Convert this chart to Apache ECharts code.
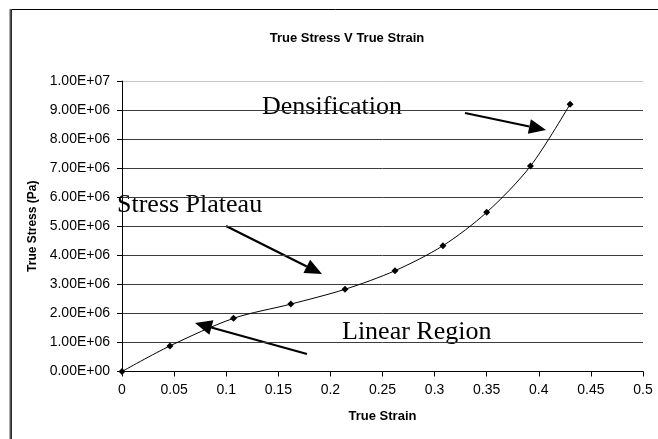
<!DOCTYPE html>
<html>
<head>
<meta charset="utf-8">
<script src="https://cdn.jsdelivr.net/npm/echarts@6/dist/echarts.min.js"></script>
<style>
  html, body { margin: 0; padding: 0; background: #fff; }
  #chart { width: 658px; height: 439px; }
</style>
</head>
<body>
<div id="chart"></div>
<script>
// values
var strain = [0, 0.046, 0.107, 0.162, 0.214, 0.262, 0.308, 0.350, 0.392, 0.430];
var stress = [0, 0.88e6, 1.83e6, 2.32e6, 2.83e6, 3.47e6, 4.33e6, 5.48e6, 7.07e6, 9.20e6];
var xTicks = [0, 0.05, 0.1, 0.15, 0.2, 0.25, 0.3, 0.35, 0.4, 0.45, 0.5];
var yTicks = [0, 1e6, 2e6, 3e6, 4e6, 5e6, 6e6, 7e6, 8e6, 9e6, 1e7];

let sci = function(v){
    if (v === 0) return '0.00E+00';
    let e = Math.floor(Math.log10(v) + 1e-9);
    let m = v / Math.pow(10, e);
    return m.toFixed(2) + 'E+' + (e < 10 ? '0' : '') + e;
};

// arrow = line plus filled head, pixel positions of the annotations
let arrow = function(x1, y1, x2, y2){
    let dx = x2 - x1, dy = y2 - y1;
    let len = Math.sqrt(dx*dx + dy*dy);
    let ux = dx/len, uy = dy/len;
    let hl = 17, hw = 7.5;
    let bx = x2 - ux*hl, by = y2 - uy*hl;
    return [{
        type: 'line',
        shape: {x1: x1, y1: y1, x2: bx, y2: by},
        style: {stroke: '#000', lineWidth: 2.2}
    }, {
        type: 'polygon',
        shape: {points: [[x2, y2], [bx - uy*hw, by + ux*hw], [bx + uy*hw, by - ux*hw]]},
        style: {fill: '#000'}
    }];
};

let labelFont = {fontFamily: 'Liberation Sans, Arial', fontSize: 14, color: '#000'};
let boldFont = {fontFamily: 'Liberation Sans, Arial', fontWeight: 'bold', color: '#000'};
let serif = {fontFamily: 'Liberation Serif, Times New Roman', fontSize: 26, fill: '#000'};

let points = [];
for (let i = 0; i < strain.length; i++) {
    points[i] = [strain[i], stress[i]];
}

let gridColors = [];
for (let i = 0; i < yTicks.length; i++) {
    gridColors[i] = i === yTicks.length - 1 ? '#c4c4c4' : '#3c3c3c';
}

let graphics = [{
    type: 'rect',
    shape: {x: 11.5, y: 9.5, width: 700, height: 500},
    style: {fill: null, stroke: '#000', lineWidth: 1}
}, {
    type: 'line',
    shape: {x1: 10.5, y1: 9, x2: 10.5, y2: 439},
    style: {stroke: '#555', lineWidth: 2}
}, {
    type: 'text', left: 262, top: 94,
    style: Object.assign({text: 'Densification'}, serif)
}, {
    type: 'text', left: 117, top: 192,
    style: Object.assign({text: 'Stress Plateau'}, serif)
}, {
    type: 'text', left: 342, top: 319,
    style: Object.assign({text: 'Linear Region'}, serif)
}];
graphics = graphics
    .concat(arrow(465, 113, 546, 130))
    .concat(arrow(226, 226, 322, 274))
    .concat(arrow(307, 354, 195, 323));

let option = {
    animation: false,
    backgroundColor: '#fff',
    title: {
        text: 'True Stress V True Strain',
        left: 342, top: 27, textAlign: 'center',
        textStyle: Object.assign({fontSize: 13}, boldFont)
    },
    grid: {left: 122, right: 15, top: 81, bottom: 67.5},
    xAxis: {
        type: 'value',
        min: xTicks[0], max: xTicks[xTicks.length - 1], interval: 0.05,
        name: 'True Strain',
        nameLocation: 'middle', nameGap: 38,
        nameTextStyle: Object.assign({fontSize: 13}, boldFont),
        axisLine: {lineStyle: {color: '#000', width: 1}},
        axisTick: {inside: false, length: 5, lineStyle: {color: '#000'}},
        axisLabel: Object.assign({margin: 12}, labelFont),
        splitLine: {show: false}
    },
    yAxis: {
        type: 'value',
        min: yTicks[0], max: yTicks[yTicks.length - 1], interval: 1e6,
        name: 'True Stress (Pa)',
        nameLocation: 'middle', nameGap: 81,
        nameTextStyle: Object.assign({fontSize: 12}, boldFont),
        axisLine: {show: true, lineStyle: {color: '#000', width: 1}},
        axisTick: {show: true, inside: false, length: 5, lineStyle: {color: '#000'}},
        axisLabel: Object.assign({margin: 12, formatter: sci}, labelFont),
        splitLine: {show: true, lineStyle: {color: gridColors, width: 1}}
    },
    series: [{
        type: 'line',
        data: points,
        smooth: 0.3,
        symbol: 'diamond',
        symbolSize: 7,
        itemStyle: {color: '#000'},
        lineStyle: {color: '#000', width: 1}
    }],
    graphic: graphics
};

let mychart = echarts.init(document.getElementById('chart'));
mychart.setOption(option);
</script>
</body>
</html>
